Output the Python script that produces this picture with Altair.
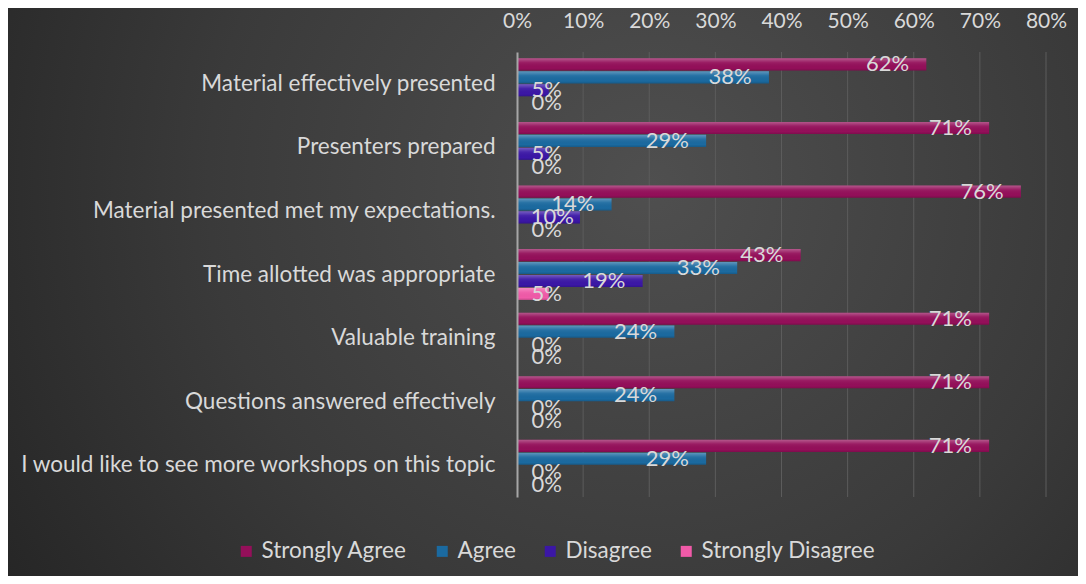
import altair as alt
import pandas as pd

categories = [
    "Material effectively presented",
    "Presenters prepared ",
    "Material presented met my expectations.",
    "Time allotted was appropriate ",
    "Valuable training",
    "Questions answered effectively",
    "I would like to see more workshops on this topic",
]
series = ["Strongly Agree", "Agree", "Disagree", "Strongly Disagree"]
strongly_agree = [61.9, 71.4, 76.2, 42.9, 71.4, 71.4, 71.4]
agree = [38.1, 28.6, 14.3, 33.3, 23.8, 23.8, 28.6]
disagree = [4.8, 4.8, 9.52, 19.0, 0, 0, 0]
strongly_disagree = [0, 0, 0, 4.8, 0, 0, 0]
colors = ["#940f5a", "#1b6aa0", "#3b17a6", "#f05aa8"]
ticks = [0, 10, 20, 30, 40, 50, 60, 70, 80]

rows = []
for s, vals in zip(series, [strongly_agree, agree, disagree, strongly_disagree]):
    for c, v in zip(categories, vals):
        rows.append({"cat": c, "series": s, "v": v})
df = pd.DataFrame(rows)
tick_df = pd.DataFrame({"v": ticks[1:]})

W, H = 529, 445
PL, PT, PR, PB = 509, 44, 32, 79
FONT = "Lato"
TXT = "#d9d9d9"

bg_grad = alt.RadialGradient(
    gradient="radial",
    stops=[alt.GradientStop(offset=0, color="#4f4f4f"),
           alt.GradientStop(offset=0.55, color="#3a3a3a"),
           alt.GradientStop(offset=1, color="#232323")],
    x1=0.6, y1=0.4, r1=0, x2=0.6, y2=0.4, r2=0.75,
)
bg = alt.Chart(pd.DataFrame({"a": [0]})).mark_rect(fill=bg_grad).encode(
    x=alt.value(-PL), x2=alt.value(W + PR), y=alt.value(-PT), y2=alt.value(H + PB)
)

xscale = alt.Scale(domain=[0, 80], nice=False)

grid = alt.Chart(tick_df).mark_rule(color="#5c5c5c", strokeWidth=1).encode(
    x=alt.X("v:Q", scale=xscale), y=alt.value(0), y2=alt.value(H)
)

y_enc = alt.Y("cat:N", sort=categories,
              scale=alt.Scale(paddingInner=0.2, paddingOuter=0.1),
              axis=alt.Axis(title=None, labelFontSize=22.5, labelColor=TXT, labelFont=FONT,
                            labelPadding=22, ticks=False, domainColor="#a6a6a6",
                            domainWidth=2, labelLimit=700, grid=False, zindex=2))
yoff = alt.YOffset("series:N", sort=series, scale=alt.Scale(paddingInner=0.06))
x_enc = alt.X("v:Q", scale=xscale,
              axis=alt.Axis(orient="top", values=ticks, labelExpr="datum.value + '%'",
                            title=None, ticks=False, domain=False, grid=False,
                            labelFontSize=21, labelColor=TXT, labelFont=FONT,
                            labelPadding=21, labelFlush=False, zindex=2))

bars = alt.Chart(df).mark_bar().encode(
    x=x_enc, y=y_enc, yOffset=yoff,
    color=alt.Color("series:N", sort=series,
                    scale=alt.Scale(domain=series, range=colors),
                    legend=alt.Legend(title=None, orient="none", legendX=-282, legendY=488,
                                      direction="horizontal", symbolType="square",
                                      symbolSize=121, symbolStrokeWidth=0,
                                      labelFontSize=22.5, labelColor=TXT, labelFont=FONT,
                                      columnPadding=23, labelOffset=4, labelLimit=400,
                                      zindex=2)),
)

hl_grad = alt.LinearGradient(
    gradient="linear",
    stops=[alt.GradientStop(offset=0, color="rgba(255,255,255,0.30)"),
           alt.GradientStop(offset=0.35, color="rgba(255,255,255,0.06)"),
           alt.GradientStop(offset=0.8, color="rgba(0,0,0,0.0)"),
           alt.GradientStop(offset=1, color="rgba(0,0,0,0.15)")],
    x1=0, y1=0, x2=0, y2=1,
)
highlight = alt.Chart(df).mark_bar(fill=hl_grad).encode(
    x="v:Q", y=alt.Y("cat:N", sort=categories), yOffset=alt.YOffset("series:N", sort=series)
)

labels = alt.Chart(df).transform_calculate(
    lab="format(datum.v, '.0f') + '%'"
).transform_calculate(
    lx="max(datum.v - 2.6, (21 + 12 * length(datum.lab)) / 6.6125)"
).mark_text(align="right", baseline="middle", fontSize=22, font=FONT, color=TXT).encode(
    x="lx:Q", y=alt.Y("cat:N", sort=categories),
    yOffset=alt.YOffset("series:N", sort=series), text="lab:N"
)

chart = alt.layer(bg, grid, bars, highlight, labels).properties(
    width=W, height=H,
    autosize=alt.AutoSizeParams(type="none"),
    padding={"left": PL, "top": PT, "right": PR, "bottom": PB},
    background="#2b2b2b",
).configure_view(stroke=None)

chart.save("out.html", embed_options={"renderer": "svg", "actions": False})
